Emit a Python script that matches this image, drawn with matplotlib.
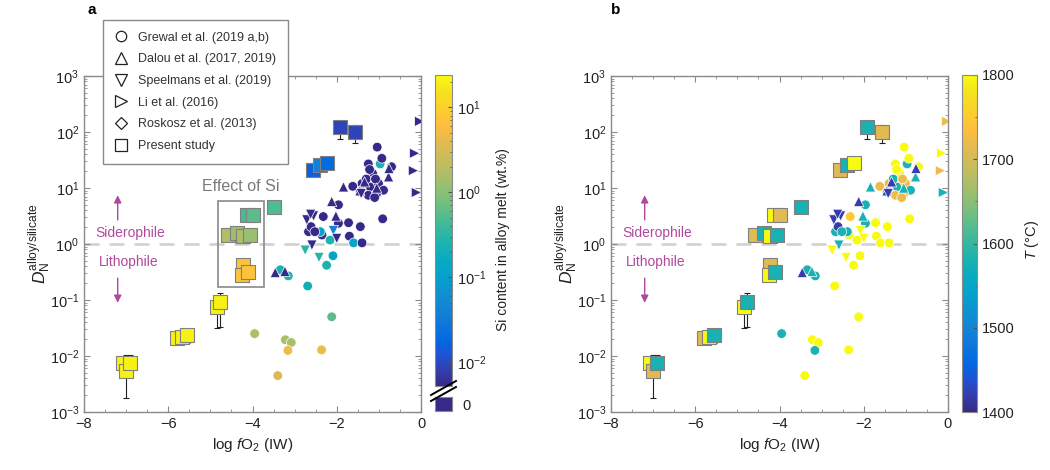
import numpy as np
import matplotlib
matplotlib.use('Agg')
import matplotlib.pyplot as plt
from matplotlib.colors import LinearSegmentedColormap, LogNorm, Normalize
from matplotlib.lines import Line2D
from matplotlib.patches import Rectangle
import matplotlib.ticker as mticker
import matplotlib.cm as cm

plt.rcParams['font.family'] = 'Liberation Sans'
plt.rcParams['mathtext.fontset'] = 'custom'
plt.rcParams['mathtext.rm'] = 'Liberation Sans'
plt.rcParams['mathtext.it'] = 'Liberation Sans:italic'
plt.rcParams['mathtext.bf'] = 'Liberation Sans:bold'

# MATLAB parula, sampled at selected entries of the 64-colour table
parula_pts = [
    (0 / 63, (0.2081, 0.1663, 0.5292)), (3 / 63, (0.2081, 0.2386, 0.6771)),
    (6 / 63, (0.1253, 0.3242, 0.8303)), (9 / 63, (0.0060, 0.4086, 0.8828)),
    (13 / 63, (0.0629, 0.4737, 0.8554)), (17 / 63, (0.0749, 0.5375, 0.8263)),
    (21 / 63, (0.0265, 0.6137, 0.8135)), (25 / 63, (0.0267, 0.6642, 0.7607)),
    (29 / 63, (0.1133, 0.7015, 0.6859)), (33 / 63, (0.2586, 0.7317, 0.5954)),
    (37 / 63, (0.4420, 0.7481, 0.5033)), (41 / 63, (0.6099, 0.7473, 0.4337)),
    (45 / 63, (0.7525, 0.7384, 0.3768)), (49 / 63, (0.8824, 0.7274, 0.3217)),
    (53 / 63, (0.9938, 0.7455, 0.2403)), (56 / 63, (0.9880, 0.8066, 0.1794)),
    (60 / 63, (0.9589, 0.8949, 0.1132)), (63 / 63, (0.9763, 0.9831, 0.0538))]
parula = LinearSegmentedColormap.from_list('parula', parula_pts)
zero_col = parula(0.0)

# ---- data ----
# present study (squares): log fO2 (IW), log D, Si (wt.%), T (C)
ps_logfo2 = [-7.07, -7.00, -6.90, -5.79, -5.67, -5.55, -4.84, -4.77,
             -4.22, -4.25, -4.10, -4.58, -4.37, -4.22, -4.06, -4.13, -3.99, -3.49,
             -2.56, -2.39, -2.23, -1.92, -1.56]
ps_logD = [-2.12, -2.27, -2.12, -1.68, -1.66, -1.63, -1.12, -1.04,
           -0.37, -0.55, -0.50, 0.16, 0.20, 0.14, 0.16, 0.52, 0.52, 0.66,
           1.32, 1.41, 1.45, 2.09, 2.00]
ps_si = [20, 20, 20, 20, 20, 20, 20, 20,
         7, 7, 7, 1.8, 1.4, 1.6, 1.2, 0.45, 0.6, 0.5,
         0.015, 0.04, 0.02, 0.009, 0.009]
ps_T = [1800, 1710, 1580, 1710, 1800, 1580, 1800, 1580,
        1710, 1800, 1580, 1710, 1580, 1800, 1580, 1800, 1710, 1580,
        1710, 1580, 1800, 1580, 1710]
# error-bar extents (log D), nan = none
ps_err_lo = [np.nan, -2.75, -2.35, -1.72, np.nan, -1.77, -1.50, -1.48,
             np.nan, np.nan, np.nan, np.nan, np.nan, np.nan, np.nan, np.nan, np.nan, np.nan,
             np.nan, np.nan, 1.35, 1.88, 1.80]
ps_err_hi = [np.nan, -1.98, -1.99, -1.65, np.nan, -1.58, -0.98, -0.87,
             np.nan, np.nan, np.nan, np.nan, np.nan, np.nan, np.nan, np.nan, np.nan, np.nan,
             np.nan, np.nan, 1.50, 2.20, 2.12]

# Grewal et al. (2019 a,b)
gr_logfo2 = [-1.04, -0.97, -1.25, -0.93, -0.70, -1.15, -1.40, -1.21, -1.01, -1.44,
             -1.25, -1.05, -0.89, -1.62, -1.10, -1.96, -2.32, -1.96, -1.72, -1.44,
             -0.91, -2.67, -2.35, -2.39, -2.16, -1.70, -1.60, -1.40, -2.09, -2.24,
             -2.69, -3.34, -3.15, -2.12, -3.95, -3.22, -3.08, -3.16, -2.36, -3.40,
             -2.61, -2.52, -1.30, -1.08, -1.22]
gr_logD = [1.73, 1.43, 1.43, 1.53, 1.38, 1.26, 1.08, 1.02, 1.08, 0.93,
           0.87, 0.90, 0.96, 1.03, 0.83, 0.70, 0.49, 0.37, 0.38, 0.31,
           0.45, 0.22, 0.16, 0.22, 0.07, 0.14, 0.02, 0.02, -0.21, -0.38,
           -0.75, -0.46, -0.57, -1.30, -1.60, -1.71, -1.76, -1.90, -1.89, -2.35,
           0.31, 0.22, 1.16, 1.16, 1.33]
gr_si = [0, 0.25, 0, 0, 0, 0, 0, 0, 0, 0,
         0, 0, 0, 0, 0, 0, 0, 0, 0, 0,
         0, 0, 0, 0.12, 0.25, 0, 0.12, 0, 0.12, 0.25,
         0.2, 0.25, 0.25, 0.6, 1.6, 1.6, 1.5, 4.5, 4.5, 3.2,
         0, 0, 0, 0, 0]
gr_T = [1800, 1580, 1800, 1800, 1800, 1800, 1720, 1580, 1720, 1580,
        1720, 1720, 1580, 1720, 1720, 1580, 1750, 1580, 1800, 1800,
        1800, 1580, 1800, 1580, 1800, 1800, 1800, 1800, 1800, 1800,
        1800, 1580, 1580, 1800, 1580, 1800, 1800, 1580, 1800, 1800,
        1420, 1580, 1580, 1720, 1800]

# Dalou et al. (2017, 2019)
da_logfo2 = [-0.77, -1.84, -2.12, -2.02, -3.46, -3.23, -1.34, -0.76, -1.45, -1.05]
da_logD = [1.20, 1.02, 0.76, 0.50, -0.51, -0.49, 1.11, 1.35, 0.95, 1.00]
da_si = [0, 0, 0, 0, 0, 0, 0, 0, 0, 0]
da_T = [1580, 1580, 1420, 1580, 1420, 1580, 1420, 1420, 1420, 1580]

# Speelmans et al. (2019)
sp_logfo2 = [-2.55, -2.71, -2.62, -2.08, -2.00, -2.59, -2.75, -2.42, -1.42]
sp_logD = [0.50, 0.43, 0.53, 0.24, 0.10, -0.02, -0.11, -0.24, 0.90]
sp_si = [0, 0, 0, 0.04, 0, 0, 0.3, 0.3, 0]
sp_T = [1420, 1420, 1420, 1800, 1800, 1580, 1800, 1800, 1420]

# Li et al. (2016)
li_logfo2 = [-0.03, -0.15, -0.18, -0.11]
li_logD = [2.19, 1.62, 1.31, 0.92]
li_si = [0, 0, 0, 0]
li_T = [1720, 1800, 1720, 1580]

lit_sets = [('o', gr_logfo2, gr_logD, gr_si, gr_T, 48),
            ('^', da_logfo2, da_logD, da_si, da_T, 54),
            ('v', sp_logfo2, sp_logD, sp_si, sp_T, 54),
            ('>', li_logfo2, li_logD, li_si, li_T, 54)]

si_norm = LogNorm(10**-2.28, 10**1.38)
t_norm = Normalize(1400, 1800)


def si_colors(vals):
    vals = np.asarray(vals, float)
    out = parula(si_norm(np.where(vals > 0, vals, 1.0)))
    out[vals <= 0] = zero_col
    return out


def t_colors(vals):
    return parula(t_norm(np.asarray(vals, float)))


W, H = 1050, 470
fig = plt.figure(figsize=(W / 100, H / 100), dpi=100)
ax1 = fig.add_axes([84 / W, 1 - 412 / H, 337 / W, 336 / H])
ax2 = fig.add_axes([611 / W, 1 - 412 / H, 337 / W, 336 / H])

mag = '#b0489e'
spine_col = '#8a8a8a'

for ax, colfun, key in [(ax1, si_colors, 'si'), (ax2, t_colors, 't')]:
    ax.axhline(1.0, color='#cfcfcf', lw=1.8, dashes=(6, 4), zorder=1)
    for m, xs, ys, si, tt, s in lit_sets:
        c = colfun(si if key == 'si' else tt)
        ax.scatter(xs, 10 ** np.asarray(ys), marker=m, s=s, c=c,
                   edgecolors='white', linewidths=0.5, zorder=3)
    # error bars of present study
    psy = 10 ** np.asarray(ps_logD)
    lo = 10 ** np.asarray(ps_err_lo)
    hi = 10 ** np.asarray(ps_err_hi)
    ok = ~np.isnan(lo)
    ax.errorbar(np.asarray(ps_logfo2)[ok], psy[ok],
                yerr=[psy[ok] - lo[ok], hi[ok] - psy[ok]], fmt='none',
                ecolor='#222222', elinewidth=0.8, capsize=2.5, capthick=0.8, zorder=4)
    c = colfun(ps_si if key == 'si' else ps_T)
    ax.scatter(ps_logfo2, psy, marker='s', s=105, c=c,
               edgecolors='#808080', linewidths=0.8, zorder=5)

    ax.set_yscale('log')
    ax.set_ylim(1e-3, 1e3)
    ax.set_xlim(-8, 0)
    ax.set_xticks([-8, -6, -4, -2, 0])
    ax.xaxis.set_minor_locator(mticker.MultipleLocator(0.5))
    ax.yaxis.set_major_locator(mticker.LogLocator(base=10, numticks=10))
    ax.yaxis.set_minor_locator(mticker.LogLocator(base=10, subs=np.arange(2, 10), numticks=20))
    ax.yaxis.set_minor_formatter(mticker.NullFormatter())
    ax.tick_params(which='both', direction='in', top=True, right=True,
                   colors=spine_col, labelcolor='#222222', labelsize=10.5)
    ax.tick_params(which='major', length=4, width=0.8)
    ax.tick_params(which='minor', length=2, width=0.6)
    for sp in ax.spines.values():
        sp.set_color(spine_col)
        sp.set_linewidth(1.0)
    ax.set_xlabel(r'log $f$O$_2$ (IW)', fontsize=11, color='#222222', labelpad=4)
    ax.text(-0.13, 0.5, r'$D_{\mathrm{N}}^{\mathrm{alloy/silicate}}$', transform=ax.transAxes,
            rotation=90, fontsize=12.5, color='#222222', ha='center', va='center')

    # siderophile / lithophile annotations
    ax.text(-6.9, 10 ** 0.20, 'Siderophile', color=mag, fontsize=10, ha='center', va='center')
    ax.text(-6.95, 10 ** -0.33, 'Lithophile', color=mag, fontsize=10, ha='center', va='center')
    ax.annotate('', xy=(-7.2, 10 ** 0.92), xytext=(-7.2, 10 ** 0.38),
                arrowprops=dict(arrowstyle='-|>', color=mag, lw=1.0, mutation_scale=11))
    ax.annotate('', xy=(-7.2, 10 ** -1.10), xytext=(-7.2, 10 ** -0.56),
                arrowprops=dict(arrowstyle='-|>', color=mag, lw=1.0, mutation_scale=11))

# "Effect of Si" box on panel a
ax1.add_patch(Rectangle((-4.83, 10 ** -0.76), 1.11, 10 ** 0.77 - 10 ** -0.76,
                        fill=False, edgecolor='#8a8a8a', lw=1.2, zorder=2))
ax1.text(-4.28, 10 ** 1.03, 'Effect of Si', color='#7a7a7a', fontsize=11.5,
         ha='center', va='center')

# colorbar a (Si content) with a separate zero patch
cax1 = fig.add_axes([435 / W, 1 - 386 / H, 17 / W, 311 / H])
cb1 = fig.colorbar(cm.ScalarMappable(norm=si_norm, cmap=parula), cax=cax1)
cb1.set_ticks([1e-2, 1e-1, 1, 10])
cb1.outline.set_edgecolor(spine_col)
cax1.tick_params(which='both', direction='in', colors='#555555', labelcolor='#222222', labelsize=10.5)
cax1.tick_params(which='major', length=3)
cax1.tick_params(which='minor', length=1.5)
cax0 = fig.add_axes([435 / W, 1 - 411 / H, 17 / W, 14 / H])
cax0.set_facecolor(zero_col)
cax0.set_xticks([])
cax0.set_yticks([])
for sp in cax0.spines.values():
    sp.set_color(spine_col)
cax0.text(1.6, 0.35, '0', transform=cax0.transAxes, fontsize=10.5, color='#222222',
          ha='left', va='center')
for dy in (0, 6):
    fig.add_artist(Line2D([431 / W, 456 / W], [1 - (395 + dy) / H, 1 - (381 + dy) / H],
                          color='black', lw=1.4))
fig.text(503 / W, 1 - 240 / H, 'Si content in alloy melt (wt.%)', rotation=90,
         fontsize=10, color='#222222', ha='center', va='center')

# colorbar b (temperature)
cax2 = fig.add_axes([962 / W, 1 - 412 / H, 15 / W, 337 / H])
cb2 = fig.colorbar(cm.ScalarMappable(norm=t_norm, cmap=parula), cax=cax2)
cb2.set_ticks([1400, 1500, 1600, 1700, 1800])
cax2.yaxis.set_minor_locator(mticker.MultipleLocator(50))
cb2.outline.set_edgecolor(spine_col)
cax2.tick_params(which='both', direction='in', colors='#555555', labelcolor='#222222', labelsize=10.5)
cax2.tick_params(which='major', length=3)
cax2.tick_params(which='minor', length=1.5)
fig.text(1032 / W, 1 - 240 / H, r'$T$ (°C)', rotation=90, fontsize=10.5,
         color='#222222', ha='center', va='center')

# legend
handles = [Line2D([], [], marker=m, ls='none', mfc='none', mec='#222222', mew=0.9, ms=ms)
           for m, ms in [('o', 7.5), ('^', 8), ('v', 8), ('>', 8), ('D', 6.5), ('s', 9)]]
labels = ['Grewal et al. (2019 a,b)', 'Dalou et al. (2017, 2019)', 'Speelmans et al. (2019)',
          'Li et al. (2016)', 'Roskosz et al. (2013)', 'Present study']
fig.legend(handles, labels, loc='upper left', bbox_to_anchor=(97 / W, 1 - 14 / H),
           fontsize=9, frameon=True, fancybox=False, edgecolor='#8a8a8a',
           framealpha=1, handlelength=1.0, handletextpad=0.9, labelspacing=0.78,
           borderpad=0.9, labelcolor='#333333')

fig.text(88 / W, 1 - 10 / H, 'a', fontsize=11, fontweight='bold', va='center')
fig.text(611 / W, 1 - 10 / H, 'b', fontsize=11, fontweight='bold', va='center')

fig.savefig('out.png', dpi=100)
